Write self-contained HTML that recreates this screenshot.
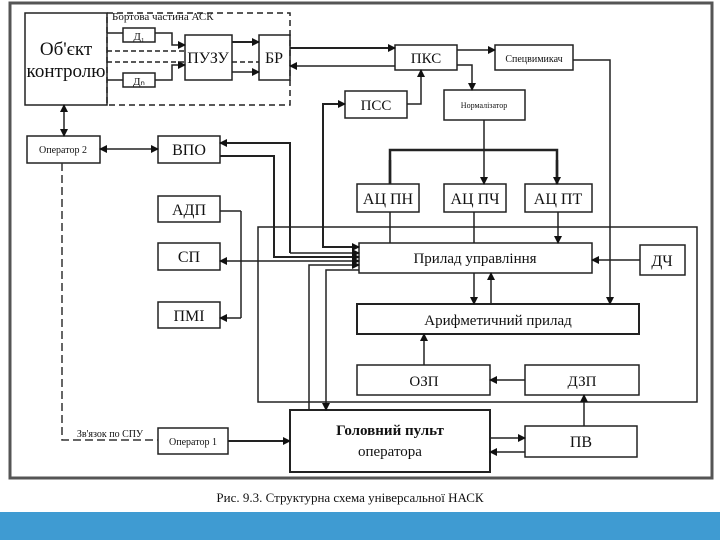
<!DOCTYPE html>
<html><head><meta charset="utf-8"><style>
body{margin:0;width:720px;height:540px;background:#fff;overflow:hidden}
text{font-family:"Liberation Serif",serif;fill:#111}
</style></head><body>
<svg width="720" height="540" viewBox="0 0 720 540" xmlns="http://www.w3.org/2000/svg">
<defs>
<marker id="a" markerWidth="8" markerHeight="8" refX="7" refY="4" orient="auto" markerUnits="userSpaceOnUse"><path d="M0,0 L8,4 L0,8 z" fill="#111"/></marker>
<marker id="s" markerWidth="8" markerHeight="8" refX="1" refY="4" orient="auto" markerUnits="userSpaceOnUse"><path d="M8,0 L0,4 L8,8 z" fill="#111"/></marker>
</defs>
<rect x="0" y="0" width="720" height="540" fill="#fff"/>
<rect x="10" y="3" width="702" height="475" fill="none" stroke="#555" stroke-width="3"/>
<rect x="0" y="512" width="720" height="28" fill="#3f9bd2"/>
<text x="350" y="502" font-size="13" text-anchor="middle">Рис. 9.3. Структурна схема універсальної НАСК</text>
<g fill="none" stroke="#222" stroke-width="1.5">
<rect x="25" y="13" width="82" height="92"/>
<rect x="107" y="13" width="183" height="92" stroke-dasharray="6,4"/>
<rect x="123" y="28" width="32" height="14"/>
<rect x="123" y="73" width="32" height="14"/>
<rect x="185" y="35" width="47" height="45"/>
<rect x="259" y="35" width="31" height="45"/>
<rect x="395" y="45" width="62" height="25"/>
<rect x="495" y="45" width="78" height="25"/>
<rect x="345" y="91" width="62" height="27"/>
<rect x="444" y="90" width="81" height="30"/>
<rect x="27" y="136" width="73" height="27"/>
<rect x="158" y="136" width="62" height="27"/>
<rect x="158" y="196" width="62" height="26"/>
<rect x="158" y="243" width="62" height="27"/>
<rect x="158" y="302" width="62" height="26"/>
<rect x="357" y="184" width="62" height="28"/>
<rect x="444" y="184" width="62" height="28"/>
<rect x="525" y="184" width="67" height="28"/>
<rect x="258" y="227" width="439" height="175"/>
<rect x="359" y="243" width="233" height="30"/>
<rect x="640" y="245" width="45" height="30"/>
<rect x="357" y="304" width="282" height="30" stroke-width="2"/>
<rect x="357" y="365" width="133" height="30"/>
<rect x="525" y="365" width="114" height="30"/>
<rect x="290" y="410" width="200" height="62" stroke-width="2"/>
<rect x="525" y="426" width="112" height="31"/>
<rect x="158" y="428" width="70" height="26"/>
</g>
<g fill="none" stroke="#222" stroke-width="1.5">
<path d="M107,33 H123 M155,33 H172 V45 H185" marker-end="url(#a)"/>
<path d="M107,80 H123 M155,80 H172 V65 H185" marker-end="url(#a)"/>
<path d="M107,51 H185 M107,62 H185" stroke-dasharray="5,3"/>
<path d="M232,42 H259" marker-end="url(#a)" stroke-width="2"/>
<path d="M232,72 H259" marker-end="url(#a)"/>
<path d="M232,62 H259" stroke-dasharray="5,3"/>
<path d="M290,48 H395" marker-end="url(#a)" stroke-width="2"/>
<path d="M395,66 H290" marker-end="url(#a)"/>
<path d="M457,50 H495" marker-end="url(#a)"/>
<path d="M457,65 H472 V90" marker-end="url(#a)"/>
<path d="M407,104 H421 V70" marker-end="url(#a)"/>
<path d="M573,60 H610 V304" marker-end="url(#a)"/>
<path d="M484,120 V184" marker-end="url(#a)"/>
<path d="M390,184 V150 H557 V184" stroke-width="2.5"/>
<path d="M390,160 V184 M557,160 V184" marker-end="url(#a)" stroke-width="2.5"/>
<path d="M390,212 V243 M474,212 V243 M558,212 V243" marker-end="url(#a)"/>
<path d="M64,105 V136" marker-start="url(#s)" marker-end="url(#a)"/>
<path d="M100,149 H158" marker-start="url(#s)" marker-end="url(#a)"/>
<path d="M62,163 V440 H158" stroke-dasharray="8,4" stroke="#333"/>
<path d="M290,253 V143 H220" marker-end="url(#a)" stroke-width="2"/>
<path d="M220,156 H274 V257 H359" marker-end="url(#a)" stroke-width="2"/>
<path d="M290,253 H359" marker-end="url(#a)"/>
<path d="M220,261 H359" marker-start="url(#s)" marker-end="url(#a)"/>
<path d="M241,211 V318" />
<path d="M241,211 H220 M241,318 H220" marker-end="url(#a)"/>
<path d="M345,104 H323 V247 H359" marker-start="url(#s)" marker-end="url(#a)" stroke-width="2"/>
<path d="M309,410 V265 H359" marker-end="url(#a)"/>
<path d="M359,270 H326 V410" marker-end="url(#a)"/>
<path d="M474,273 V304" marker-end="url(#a)"/>
<path d="M491,304 V273" marker-end="url(#a)"/>
<path d="M640,260 H592" marker-end="url(#a)"/>
<path d="M424,365 V334" marker-end="url(#a)"/>
<path d="M525,380 H490" marker-end="url(#a)"/>
<path d="M584,426 V395" marker-end="url(#a)"/>
<path d="M490,438 H525" marker-end="url(#a)"/>
<path d="M525,452 H490" marker-end="url(#a)"/>
<path d="M228,441 H290" marker-end="url(#a)" stroke-width="2"/>
</g>
<g text-anchor="middle">
<text x="66" y="55" font-size="19">Об'єкт</text>
<text x="66" y="77" font-size="19">контролю</text>
<text x="112" y="20" font-size="11" text-anchor="start">Бортова частина АСК</text>
<text x="139" y="40" font-size="11">Д₁</text>
<text x="139" y="85" font-size="11">Дₙ</text>
<text x="208" y="63" font-size="16">ПУЗУ</text>
<text x="274" y="63" font-size="16">БР</text>
<text x="426" y="63" font-size="15">ПКС</text>
<text x="534" y="62" font-size="10">Спецвимикач</text>
<text x="376" y="110" font-size="15">ПСС</text>
<text x="484" y="108" font-size="8">Нормалізатор</text>
<text x="63" y="153" font-size="10">Оператор 2</text>
<text x="189" y="155" font-size="16">ВПО</text>
<text x="189" y="215" font-size="16">АДП</text>
<text x="189" y="262" font-size="16">СП</text>
<text x="189" y="321" font-size="16">ПМІ</text>
<text x="388" y="204" font-size="16">АЦ ПН</text>
<text x="475" y="204" font-size="16">АЦ ПЧ</text>
<text x="558" y="204" font-size="16">АЦ ПТ</text>
<text x="475" y="263" font-size="15">Прилад управління</text>
<text x="662" y="266" font-size="16">ДЧ</text>
<text x="498" y="325" font-size="15">Арифметичний прилад</text>
<text x="424" y="386" font-size="15">ОЗП</text>
<text x="582" y="386" font-size="15">ДЗП</text>
<text x="390" y="435" font-size="15" font-weight="bold">Головний пульт</text>
<text x="390" y="456" font-size="15">оператора</text>
<text x="581" y="447" font-size="16">ПВ</text>
<text x="193" y="445" font-size="10">Оператор 1</text>
<text x="110" y="437" font-size="10">Зв'язок по СПУ</text>
</g>
</svg>
</body></html>
